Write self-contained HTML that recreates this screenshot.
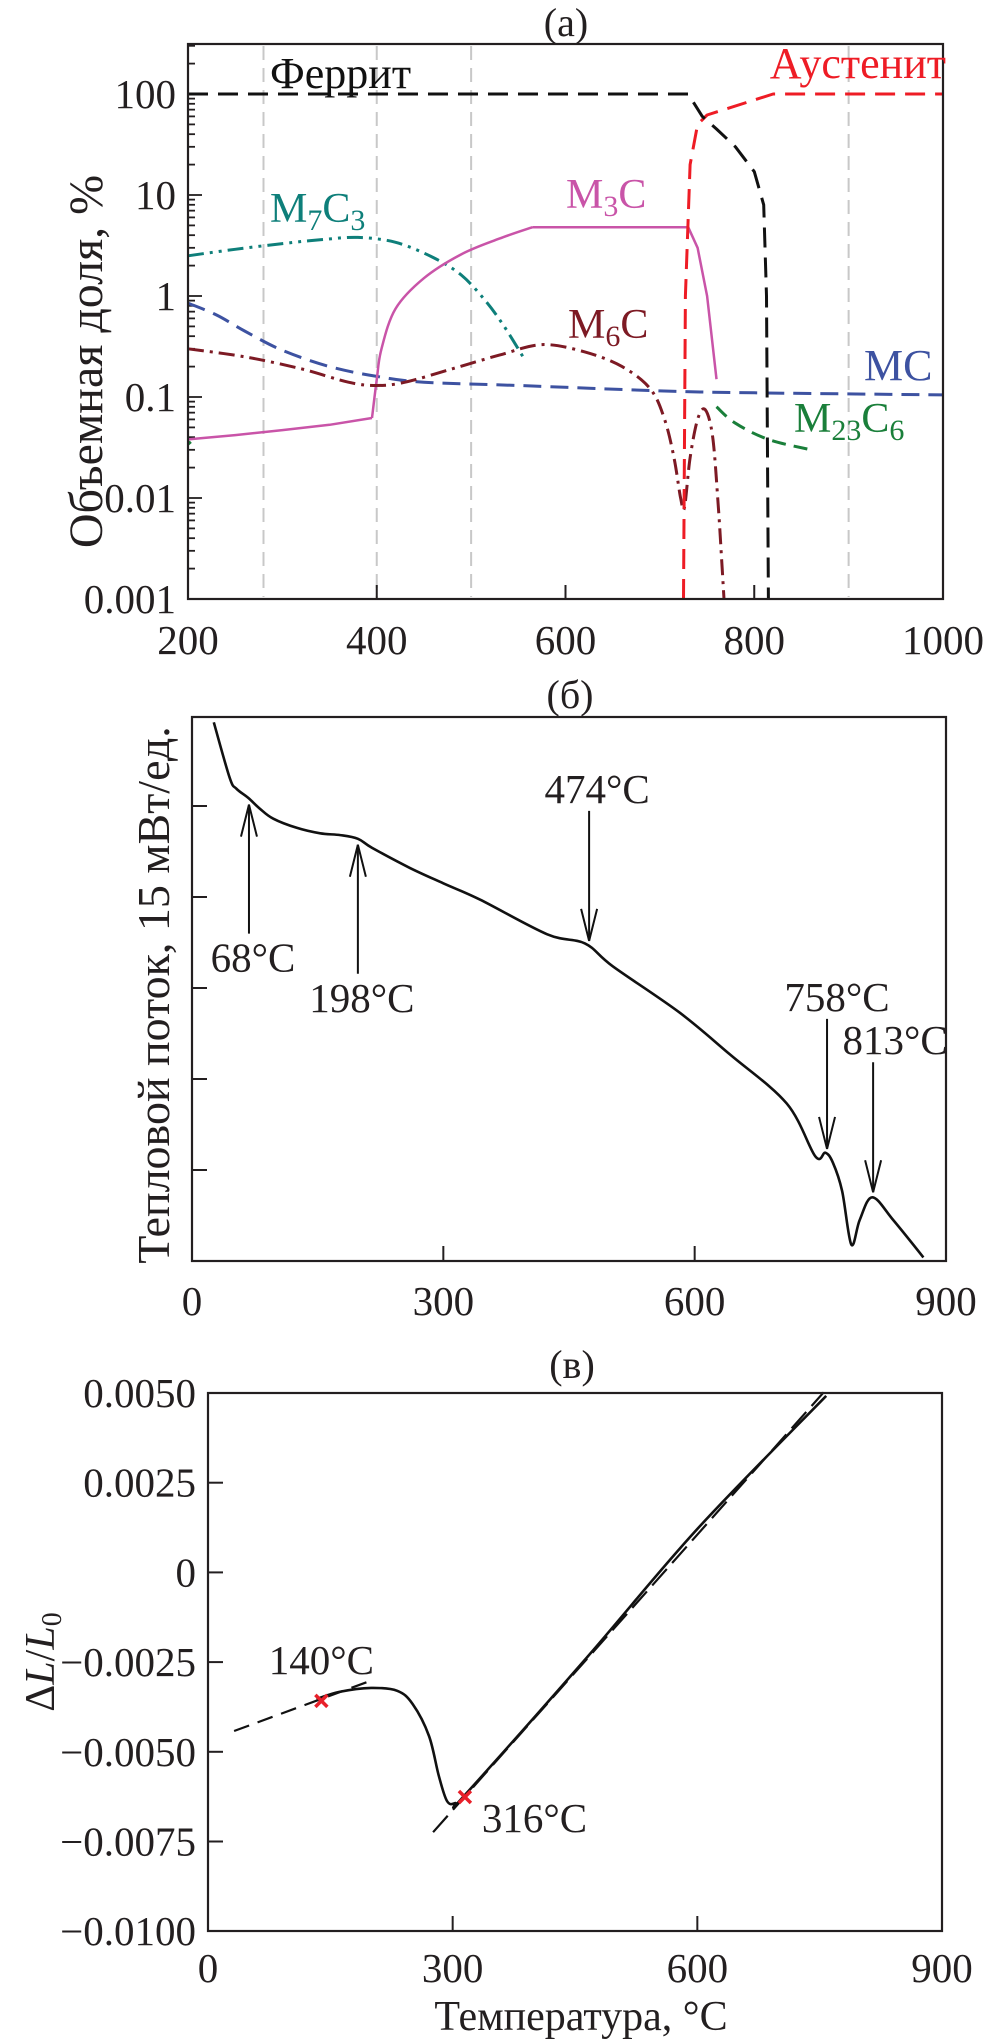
<!DOCTYPE html>
<html><head><meta charset="utf-8">
<style>
html,body{margin:0;padding:0;background:#fff;}
svg{display:block;font-family:"Liberation Serif","DejaVu Serif",serif;}
</style></head>
<body>
<svg id="fig" width="983" height="2044" viewBox="0 0 983 2044" xmlns="http://www.w3.org/2000/svg">
<rect width="983" height="2044" fill="#fff"/>
</svg>
<script>
// ===== Panel (a) data: phase volume fraction (%), log scale =====
const aTicksX = [200, 400, 600, 800, 1000];
const aTicksY = [0.001, 0.01, 0.1, 1, 10, 100];
const aTickYLabels = ["0.001", "0.01", "0.1", "1", "10", "100"];
const aGridT = [280, 400, 500, 900];
const ferriteT = [200, 730, 745, 760, 780, 800, 810, 813, 815];
const ferriteV = [100, 100, 60, 45, 30, 17, 8, 1, 0.001];
const austeniteT = [725, 727, 732, 740, 750, 820, 1000];
const austeniteV = [0.001, 1, 20, 50, 62, 100, 100];
const m7c3T = [200, 250, 300, 340, 380, 420, 460, 490, 515, 535, 555];
const m7c3V = [2.5, 2.9, 3.3, 3.6, 3.8, 3.4, 2.4, 1.6, 0.9, 0.5, 0.25];
const m3cLowT = [200, 250, 300, 350, 395];
const m3cLowV = [0.038, 0.042, 0.047, 0.053, 0.062];
const m3cRiseT = [395, 400, 405, 420, 450, 490, 530, 565];
const m3cRiseV = [0.062, 0.15, 0.3, 0.75, 1.5, 2.6, 3.7, 4.8];
const m3cHighT = [565, 730, 740, 750, 760];
const m3cHighV = [4.8, 4.8, 3.0, 1.0, 0.15];
const mcT = [200, 230, 260, 300, 350, 400, 450, 550, 700, 800, 1000];
const mcV = [0.85, 0.65, 0.45, 0.29, 0.2, 0.16, 0.14, 0.13, 0.115, 0.11, 0.105];
const m6cT = [200, 260, 320, 370, 400, 430, 480, 530, 575, 620, 660, 690, 705, 715, 722, 726, 732, 740, 748, 756, 762, 766, 768];
const m6cV = [0.3, 0.25, 0.19, 0.14, 0.13, 0.14, 0.19, 0.26, 0.33, 0.28, 0.2, 0.12, 0.06, 0.025, 0.01, 0.008, 0.025, 0.06, 0.075, 0.04, 0.008, 0.002, 0.001];
const m23c6T = [760, 780, 815, 860];
const m23c6V = [0.08, 0.055, 0.038, 0.03];
const m23c6LeftT = [200, 203];
const m23c6LeftV = [0.034, 0.036];

// ===== Panel (b) data: DSC heat flow (arbitrary units, 1 unit = 15 mW) =====
const bTicksX = [0, 300, 600, 900];
const bTicksY = [1, 2, 3, 4, 5];
const dscT = [26, 45, 53, 67, 81, 97, 125, 153, 177, 198, 215, 260, 300, 344, 424, 469, 502, 582, 642, 710, 744, 756, 765, 776, 787, 797, 812, 837, 873];
const dscV = [5.92, 5.31, 5.19, 5.09, 4.97, 4.86, 4.76, 4.70, 4.68, 4.64, 4.54, 4.32, 4.15, 3.97, 3.59, 3.49, 3.24, 2.73, 2.27, 1.73, 1.15, 1.19, 1.08, 0.77, 0.18, 0.45, 0.70, 0.45, 0.04];
const dscPeakT = [68, 198, 474, 758, 813];
const dscPeakLabels = ["68°C", "198°C", "474°C", "758°C", "813°C"];

// ===== Panel (c) data: dilatometry dL/L0 =====
const cTicksX = [0, 300, 600, 900];
const cTicksY = [0.005, 0.0025, 0, -0.0025, -0.005, -0.0075, -0.01];
const cTickYLabels = ["0.0050", "0.0025", "0", "\u22120.0025", "\u22120.0050", "\u22120.0075", "\u22120.0100"];
const dilT = [133, 161, 200, 232, 251, 271, 283, 293, 303, 316, 465, 600, 758];
const dilV = [-0.00353, -0.00333, -0.00322, -0.0033, -0.00367, -0.00456, -0.00567, -0.00637, -0.00643, -0.00618, -0.00236, 0.00121, 0.00492];
const fitLowT = [32, 196];
const fitLowV = [-0.00442, -0.00305];
const fitHighT = [276, 755];
const fitHighV = [-0.00724, 0.00502];
const markT = [139, 315];
const markV = [-0.00358, -0.00626];
const markLabels = ["140°C", "316°C"];

const NS = "http://www.w3.org/2000/svg";
const svg = document.getElementById('fig');
const FS = 41;
function mk(tag, attrs, parent) {
  const e = document.createElementNS(NS, tag);
  for (const k in attrs) e.setAttribute(k, attrs[k]);
  (parent || svg).appendChild(e);
  return e;
}
function pathLinear(pts) { return pts.map((p, i) => (i ? 'L' : 'M') + p[0].toFixed(1) + ' ' + p[1].toFixed(1)).join(' '); }
function pathSmooth(pts) {
  if (pts.length < 3) return pathLinear(pts);
  let d = 'M' + pts[0][0].toFixed(1) + ' ' + pts[0][1].toFixed(1);
  for (let i = 0; i < pts.length - 1; i++) {
    const p0 = pts[i - 1] || pts[i], p1 = pts[i], p2 = pts[i + 1], p3 = pts[i + 2] || p2;
    const c1 = [p1[0] + (p2[0] - p0[0]) / 6, p1[1] + (p2[1] - p0[1]) / 6];
    const c2 = [p2[0] - (p3[0] - p1[0]) / 6, p2[1] - (p3[1] - p1[1]) / 6];
    d += ' C' + c1[0].toFixed(1) + ' ' + c1[1].toFixed(1) + ' ' + c2[0].toFixed(1) + ' ' + c2[1].toFixed(1) + ' ' + p2[0].toFixed(1) + ' ' + p2[1].toFixed(1);
  }
  return d;
}
function text(str, x, y, size, anchor, fill, parent) {
  const t = mk('text', {x: x, y: y, 'font-size': size, 'text-anchor': anchor || 'middle', fill: fill || '#231f20'}, parent);
  t.textContent = str;
  return t;
}

// ================= PANEL A =================
const A = {l: 188, r: 943, t: 44, b: 599};
const axA = (T) => A.l + (T - 200) * (A.r - A.l) / 800;
const ayA = (v) => A.b - 101 * (Math.log10(v) + 3);
const gA = mk('g', {});


const tA = text('(a)', 566, 36, 40, 'middle', '#231f20', gA);


aGridT.forEach(T => {
  const l = mk('line', {x1: axA(T), x2: axA(T), y1: A.t + 2, y2: A.b - 2, stroke: '#c8c8c8', 'stroke-width': 2, 'stroke-dasharray': '14 8'}, gA);
  
  
});
for (let e = -3; e <= 2; e++) {
  for (let m = 1; m <= 9; m++) {
    const v = m * Math.pow(10, e);
    const y = ayA(v);
    if (y < A.t) continue;
    const len = m === 1 ? 14 : 7;
    mk('line', {x1: A.l, x2: A.l + len, y1: y, y2: y, stroke: '#231f20', 'stroke-width': 1.8}, gA);
  }
}
aTicksY.forEach((v, i) => {
  const t = text(aTickYLabels[i], 176, ayA(v) + 14, FS, 'end', '#231f20', gA);
  
  
});
aTicksX.forEach(T => {
  if (T > 200 && T < 1000) mk('line', {x1: axA(T), x2: axA(T), y1: A.b, y2: A.b - 14, stroke: '#231f20', 'stroke-width': 2}, gA);
  const t = text(String(T), axA(T), 654, FS, 'middle', '#231f20', gA);
  
  
});
const yA = text('Объемная доля, %', 0, 0, 48, 'middle', '#231f20', gA);
yA.setAttribute('transform', 'translate(102,' + ((A.t + A.b) / 2 + 40) + ') rotate(-90)');



function seriesA(Ts, Vs, color, dash, smooth, name, width) {
  const pts = Ts.map((T, i) => [axA(T), ayA(Vs[i])]);
  const p = mk('path', {d: smooth ? pathSmooth(pts) : pathLinear(pts), fill: 'none', stroke: color, 'stroke-width': width || 3, 'stroke-dasharray': dash || 'none', 'stroke-linejoin': 'round'}, gA);
  
  
}
seriesA(mcT, mcV, '#3d52a1', '18 9', true, 'mc-line');
seriesA(m7c3T, m7c3V, '#0e7f7a', '16 6 3 6 3 6', true, 'm7c3-line');
seriesA(m3cLowT, m3cLowV, '#c954a8', null, false, 'm3c-line-low', 2.5);
seriesA(m3cRiseT, m3cRiseV, '#c954a8', null, true, 'm3c-line-rise', 2.5);
seriesA(m3cHighT, m3cHighV, '#c954a8', null, false, 'm3c-line-high', 2.5);
seriesA(m6cT, m6cV, '#7d1a24', '16 6 3 6', true, 'm6c-line');
seriesA(m23c6T, m23c6V, '#1a7f3a', '14 8', true, 'm23c6-line');
seriesA(m23c6LeftT, m23c6LeftV, '#1a7f3a', null, false, 'm23c6-left-line');
seriesA(austeniteT, austeniteV, '#ee1c25', '20 10', false, 'austenite-line');
seriesA(ferriteT, ferriteV, '#111', '20 10', false, 'ferrite-line');
const fA = mk('rect', {x: A.l, y: A.t, width: A.r - A.l, height: A.b - A.t, fill: 'none', stroke: '#231f20', 'stroke-width': 2.2}, gA);


function subLabel(parts, x, y, color, name) {
  const t = mk('text', {x: x, y: y, 'font-size': 42, fill: color}, gA);
  parts.forEach(p => {
    const s = mk('tspan', {}, t);
    if (p[1]) { s.setAttribute('font-size', 30); s.setAttribute('dy', 8); }
    else if (p[2]) { s.setAttribute('dy', -8); }
    s.textContent = p[0];
  });
  
  
}
const lf = text('Феррит', 270, 88, 44, 'start', '#111', gA);


const la = text('Аустенит', 946, 78, 44, 'end', '#ee1c25', gA);


subLabel([['M'], ['7', 1], ['C', 0, 1], ['3', 1]], 270, 222, '#0e7f7a', 'm7c3-label');
subLabel([['M'], ['3', 1], ['C', 0, 1]], 566, 208, '#c954a8', 'm3c-label');
subLabel([['M'], ['6', 1], ['C', 0, 1]], 568, 338, '#7d1a24', 'm6c-label');
const lmc = text('MC', 864, 380, 44, 'start', '#3d52a1', gA);


subLabel([['M'], ['23', 1], ['C', 0, 1], ['6', 1]], 794, 432, '#1a7f3a', 'm23c6-label');

// ================= PANEL B =================
const B = {l: 192, r: 946, t: 717, b: 1261};
const axB = (T) => B.l + T * (B.r - B.l) / 900;
const ayB = (u) => B.b - u * 91;
const gB = mk('g', {});


const tB = text('(б)', 570, 708, 40, 'middle', '#231f20', gB);


bTicksY.forEach(u => {
  const l = mk('line', {x1: B.l, x2: B.l + 15, y1: ayB(u), y2: ayB(u), stroke: '#231f20', 'stroke-width': 2}, gB);
  
  
});
bTicksX.forEach(T => {
  if (T > 0 && T < 900) mk('line', {x1: axB(T), x2: axB(T), y1: B.b, y2: B.b - 15, stroke: '#231f20', 'stroke-width': 2}, gB);
  const t = text(String(T), axB(T), 1315, FS, 'middle', '#231f20', gB);
  
  
});
const yB = text('Тепловой поток, 15 мВт/ед.', 0, 0, 46, 'middle', '#231f20', gB);
yB.setAttribute('transform', 'translate(169,' + ((B.t + B.b) / 2 + 6) + ') rotate(-90)');


const dscPts = dscT.map((T, i) => [axB(T), ayB(dscV[i])]);
const dscPath = mk('path', {d: pathSmooth(dscPts), fill: 'none', stroke: '#111', 'stroke-width': 2.6, 'stroke-linejoin': 'round'}, gB);


function interp(Ts, Vs, T) {
  for (let i = 0; i < Ts.length - 1; i++) if (T >= Ts[i] && T <= Ts[i + 1]) return Vs[i] + (Vs[i + 1] - Vs[i]) * (T - Ts[i]) / (Ts[i + 1] - Ts[i]);
  return Vs[Vs.length - 1];
}
const arrowDir = [1, 1, -1, -1, -1];
dscPeakT.forEach((T, i) => {
  const x = axB(T);
  const yc = ayB(interp(dscT, dscV, T));
  const dir = arrowDir[i];
  let tip, tail, lx, ly;
  if (dir === 1) { tip = yc + 6; tail = yc + 135; lx = x + 4; ly = tail + 38; }
  else { tip = yc - 6; tail = yc - 136; lx = x + 8; ly = tail - 8; }
  if (i === 3) { lx = x + 10; }
  if (i === 4) { lx = x + 22; }
  const g = mk('g', {}, gB);
  
  
  mk('line', {x1: x, x2: x, y1: tail, y2: tip, stroke: '#111', 'stroke-width': 2}, g);
  const h = 32 * dir;
  mk('path', {d: 'M' + (x - 8) + ' ' + (tip + h) + ' L' + x + ' ' + tip + ' L' + (x + 8) + ' ' + (tip + h), fill: 'none', stroke: '#111', 'stroke-width': 2}, g);
  const t = text(dscPeakLabels[i], lx, ly, FS, 'middle', '#231f20', g);
  
  
});
const fB = mk('rect', {x: B.l, y: B.t, width: B.r - B.l, height: B.b - B.t, fill: 'none', stroke: '#231f20', 'stroke-width': 2.2}, gB);



// ================= PANEL C =================
const C = {l: 208, r: 942, t: 1393, b: 1931};
const axC = (T) => C.l + T * (C.r - C.l) / 900;
const ayC = (v) => C.t + (0.005 - v) / 0.0025 * 89.7;
const gC = mk('g', {});


const tC = text('(в)', 572, 1378, 40, 'middle', '#231f20', gC);


cTicksY.forEach((v, i) => {
  if (i > 0 && i < cTicksY.length - 1) mk('line', {x1: C.l, x2: C.l + 15, y1: ayC(v), y2: ayC(v), stroke: '#231f20', 'stroke-width': 2}, gC);
  const t = text(cTickYLabels[i], 196, ayC(v) + 14, FS, 'end', '#231f20', gC);
  
  
});
cTicksX.forEach(T => {
  if (T > 0 && T < 900) mk('line', {x1: axC(T), x2: axC(T), y1: C.b, y2: C.b - 15, stroke: '#231f20', 'stroke-width': 2}, gC);
  const t = text(String(T), axC(T), 1982, FS, 'middle', '#231f20', gC);
  
  
});
const xC = text('Температура, °C', 581, 2030, 42, 'middle', '#231f20', gC);


const yC = mk('text', {'font-size': 42, 'text-anchor': 'middle', fill: '#231f20', transform: 'translate(54,1662) rotate(-90)'}, gC);


const s1 = mk('tspan', {}, yC); s1.textContent = 'Δ';
const s2 = mk('tspan', {'font-style': 'italic'}, yC); s2.textContent = 'L';
const s3 = mk('tspan', {}, yC); s3.textContent = '/';
const s4 = mk('tspan', {'font-style': 'italic'}, yC); s4.textContent = 'L';
const s5 = mk('tspan', {'font-size': 28, dy: 7}, yC); s5.textContent = '0';

function lineC(Ts, Vs, dash, smooth, name) {
  const pts = Ts.map((T, i) => [axC(T), ayC(Vs[i])]);
  const p = mk('path', {d: smooth ? pathSmooth(pts) : pathLinear(pts), fill: 'none', stroke: '#111', 'stroke-width': dash ? 2.2 : 2.6, 'stroke-dasharray': dash || 'none', 'stroke-linejoin': 'round'}, gC);
  
  
}
lineC(fitLowT, fitLowV, '16 9', false, 'low-temperature-fit-line');
lineC(fitHighT, fitHighV, '22 8', false, 'high-temperature-fit-line');
lineC(dilT, dilV, null, true, 'dilatometry-curve');
markT.forEach((T, i) => {
  const x = axC(T), y = ayC(markV[i]);
  const m = mk('path', {d: 'M' + (x - 6) + ' ' + (y - 6) + ' L' + (x + 6) + ' ' + (y + 6) + ' M' + (x + 6) + ' ' + (y - 6) + ' L' + (x - 6) + ' ' + (y + 6), stroke: '#e8202a', 'stroke-width': 3.5, fill: 'none'}, gC);
  
  
  const t = i === 0 ? text(markLabels[i], x + 0, y - 27, FS, 'middle', '#231f20', gC)
                    : text(markLabels[i], x + 17, y + 35, FS, 'start', '#231f20', gC);
  
  
});
const fC = mk('rect', {x: C.l, y: C.t, width: C.r - C.l, height: C.b - C.t, fill: 'none', stroke: '#231f20', 'stroke-width': 2.2}, gC);


</script>
</body></html>
